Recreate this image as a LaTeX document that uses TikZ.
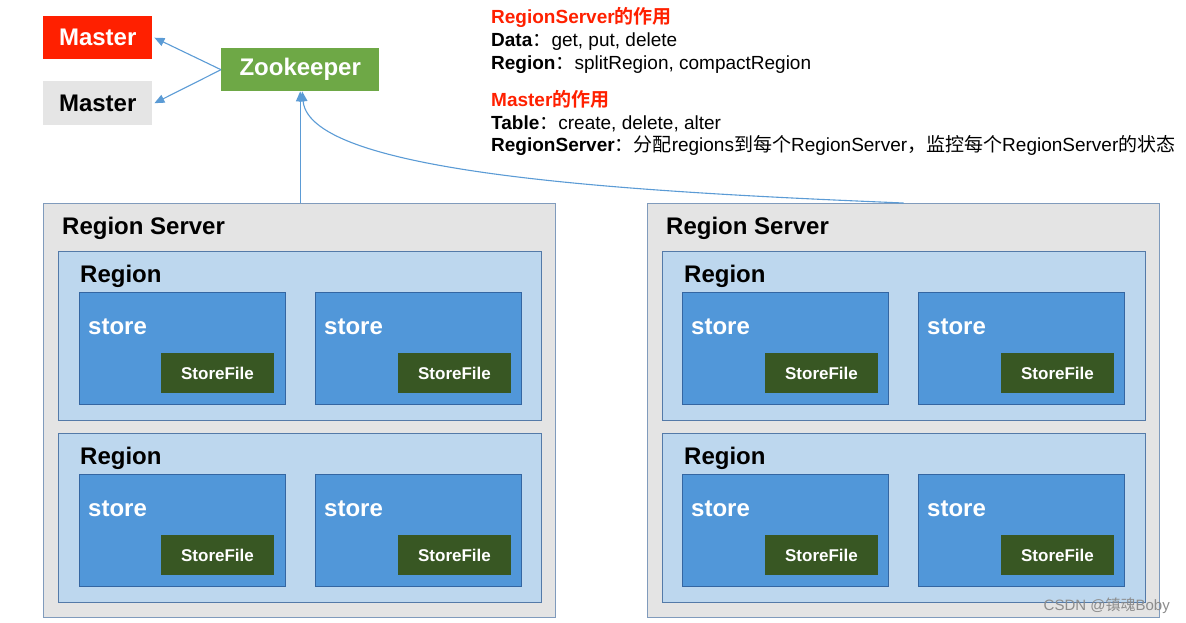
\documentclass[tikz,border=0pt]{standalone}
\usepackage{fontspec}
\setmainfont{Liberation Sans}
\newfontfamily\cjk{Noto Sans CJK SC}[BoldFont={Noto Sans CJK SC Bold}]
\usetikzlibrary{positioning,arrows.meta}
\definecolor{arrowblue}{RGB}{91,155,213}
\definecolor{masterred}{RGB}{255,32,0}
\definecolor{mastergray}{RGB}{229,229,229}
\definecolor{zkgreen}{RGB}{110,168,70}
\definecolor{servergray}{RGB}{228,228,228}
\definecolor{serveredge}{RGB}{128,155,188}
\definecolor{regionblue}{RGB}{189,215,238}
\definecolor{regionedge}{RGB}{84,122,168}
\definecolor{storeblue}{RGB}{81,151,217}
\definecolor{storeedge}{RGB}{52,102,162}
\definecolor{filegreen}{RGB}{56,87,35}

\begin{document}
\begin{tikzpicture}[x=1pt,y=-1pt,
    arr/.style={draw=arrowblue,line width=1.1pt,-{Triangle[length=10pt,width=8.5pt]}},
    topbox/.style={minimum width=109pt,minimum height=43pt,inner sep=0pt,anchor=north west,
        font=\fontsize{24}{28}\selectfont\bfseries},
    server/.style={fill=servergray,draw=serveredge,line width=1.2pt,minimum width=512pt,
        minimum height=414pt,anchor=north west,inner sep=0pt},
    region/.style={fill=regionblue,draw=regionedge,line width=1.2pt,minimum width=483pt,
        minimum height=169pt,anchor=north west,inner sep=0pt},
    store/.style={fill=storeblue,draw=storeedge,line width=1.2pt,minimum width=206pt,
        minimum height=112pt,anchor=north west,inner sep=0pt},
    storefile/.style={fill=filegreen,minimum width=113pt,minimum height=40pt,inner sep=0pt,
        text=white,font=\fontsize{17}{20}\selectfont\bfseries,anchor=south east},
    biglabel/.style={font=\fontsize{24}{28}\selectfont\bfseries,anchor=base west,inner sep=0pt},
    note/.style={font=\fontsize{19}{23}\selectfont,anchor=base west,inner sep=0pt}]
    \useasboundingbox (0,0) rectangle (1186,622);

    \node[topbox,fill=masterred,text=white] (masterA) at (43,16) {Master};
    \node[topbox,fill=mastergray,text=black,minimum height=44pt] (masterB) at (43,81) {Master};
    \node[topbox,fill=zkgreen,text=white,minimum width=158pt] (zk) at (221,48) {Zookeeper};

    \node[note,text=masterred] (t1) at (491,23.5) {\bfseries RegionServer{\cjk 的作用}};
    \node[note] (t2) at (491,46.5) {\textbf{Data}{\cjk ：}get, put, delete};
    \node[note] (t3) at (491,69) {\textbf{Region}{\cjk ：}splitRegion, compactRegion};
    \node[note,text=masterred] (t4) at (491,106.5) {\bfseries Master{\cjk 的作用}};
    \node[note] (t5) at (491,129) {\textbf{Table}{\cjk ：}create, delete, alter};
    \node[note] (t6) at (491,151.5) {\textbf{RegionServer}{\cjk ：分配}regions{\cjk 到每个}RegionServer{\cjk ，监控每个}RegionServer{\cjk 的状态}};

    \node[server] (srvL) at (43,203) {};
    \node[server] (srvR) at (647,203) {};
    \node[biglabel] (srvLt) at ([shift={(19,31)}]srvL.north west) {Region Server};
    \node[biglabel] (srvRt) at ([shift={(19,31)}]srvR.north west) {Region Server};

    \node[region] (regL1) at ([shift={(15,48)}]srvL.north west) {};
    \node[region] (regL2) at ([shift={(15,230)}]srvL.north west) {};
    \node[region] (regR1) at ([shift={(15,48)}]srvR.north west) {};
    \node[region] (regR2) at ([shift={(15,230)}]srvR.north west) {};
    \node[biglabel] (regL1t) at ([shift={(22,31)}]regL1.north west) {Region};
    \node[biglabel] (regL2t) at ([shift={(22,31)}]regL2.north west) {Region};
    \node[biglabel] (regR1t) at ([shift={(22,31)}]regR1.north west) {Region};
    \node[biglabel] (regR2t) at ([shift={(22,31)}]regR2.north west) {Region};

    \node[store] (stL1a) at ([shift={(21,41)}]regL1.north west) {};
    \node[store] (stL1b) at ([shift={(257,41)}]regL1.north west) {};
    \node[store] (stL2a) at ([shift={(21,41)}]regL2.north west) {};
    \node[store] (stL2b) at ([shift={(257,41)}]regL2.north west) {};
    \node[store] (stR1a) at ([shift={(20,41)}]regR1.north west) {};
    \node[store] (stR1b) at ([shift={(256,41)}]regR1.north west) {};
    \node[store] (stR2a) at ([shift={(20,41)}]regR2.north west) {};
    \node[store] (stR2b) at ([shift={(256,41)}]regR2.north west) {};

    \node[biglabel,text=white] (stL1at) at ([shift={(9,42)}]stL1a.north west) {store};
    \node[biglabel,text=white] (stL1bt) at ([shift={(9,42)}]stL1b.north west) {store};
    \node[biglabel,text=white] (stL2at) at ([shift={(9,42)}]stL2a.north west) {store};
    \node[biglabel,text=white] (stL2bt) at ([shift={(9,42)}]stL2b.north west) {store};
    \node[biglabel,text=white] (stR1at) at ([shift={(9,42)}]stR1a.north west) {store};
    \node[biglabel,text=white] (stR1bt) at ([shift={(9,42)}]stR1b.north west) {store};
    \node[biglabel,text=white] (stR2at) at ([shift={(9,42)}]stR2a.north west) {store};
    \node[biglabel,text=white] (stR2bt) at ([shift={(9,42)}]stR2b.north west) {store};

    \node[storefile] (sfL1a) at ([shift={(-12,-12)}]stL1a.south east) {StoreFile};
    \node[storefile] (sfL1b) at ([shift={(-11,-12)}]stL1b.south east) {StoreFile};
    \node[storefile] (sfL2a) at ([shift={(-12,-12)}]stL2a.south east) {StoreFile};
    \node[storefile] (sfL2b) at ([shift={(-11,-12)}]stL2b.south east) {StoreFile};
    \node[storefile] (sfR1a) at ([shift={(-11,-12)}]stR1a.south east) {StoreFile};
    \node[storefile] (sfR1b) at ([shift={(-11,-12)}]stR1b.south east) {StoreFile};
    \node[storefile] (sfR2a) at ([shift={(-11,-12)}]stR2a.south east) {StoreFile};
    \node[storefile] (sfR2b) at ([shift={(-11,-12)}]stR2b.south east) {StoreFile};

    \draw[arr] (zk.west) -- ([xshift=2pt]masterA.east);
    \draw[arr] (zk.west) -- ([xshift=2pt]masterB.east);
    \draw[arr] (zk.south |- srvL.north) -- (zk.south);
    \draw[arr] (srvR.north) .. controls (640,192) and (310,175) .. ([xshift=2pt]zk.south);

    \node[anchor=base east,inner sep=0pt,text=black!45,font=\fontsize{15}{17}\selectfont] (mark)
        at (1170,610) {CSDN @{\cjk 镇魂}Boby};
\end{tikzpicture}
\end{document}
